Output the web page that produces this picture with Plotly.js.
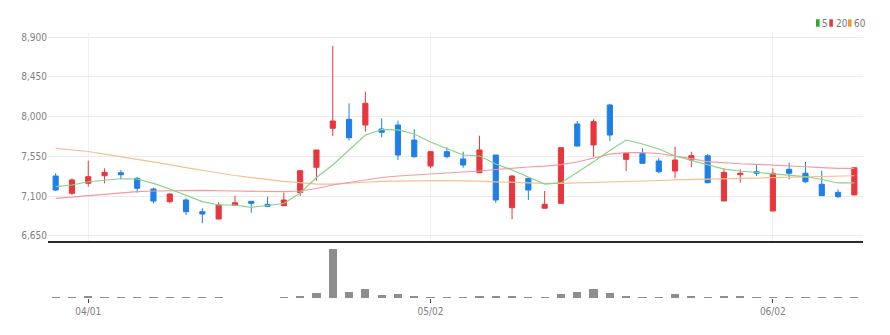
<!DOCTYPE html>
<html><head><meta charset="utf-8">
<script src="https://cdn.plot.ly/plotly-3.0.1.min.js"></script>
<style>html,body{margin:0;padding:0;background:#fff}</style>
</head><body>
<div id="chart" style="width:890px;height:335px"></div>
<script>
const dates = ['03/28','03/29','04/01','04/02','04/03','04/04','04/05','04/08','04/09','04/11','04/12','04/15','04/16','04/17','04/18','04/19','04/22','04/23','04/24','04/25','04/26','04/29','04/30','05/02','05/03','05/07','05/08','05/09','05/10','05/13','05/14','05/15','05/16','05/17','05/20','05/21','05/22','05/23','05/24','05/27','05/28','05/29','05/30','05/31','06/02','06/03','06/04','06/05','06/07','06/10'];
const openP  = [7327,7131,7244,7330,7364,7301,7180,7036,7055,6922,6839,6995,7040,7006,6990,7138,7426,7868,7970,7905,7860,7905,7735,7440,7603,7520,7364,7565,6968,7301,6961,7017,7917,7679,8132,7516,7584,7497,7384,7508,7557,7044,7342,7376,6930,7403,7358,7233,7142,7112];
const highP  = [7358,7301,7500,7414,7395,7316,7194,7131,7074,6961,7029,7100,7040,7092,7138,7387,7622,8801,8151,8283,7981,7954,7857,7603,7652,7603,7784,7565,7338,7301,7157,7648,7951,7970,8143,7584,7641,7528,7659,7603,7576,7414,7403,7463,7414,7478,7489,7387,7176,7421];
const lowP   = [7157,7112,7206,7244,7290,7138,7017,7017,6885,6791,6839,6995,6911,6979,6990,7100,7274,7781,7727,7829,7766,7508,7535,7414,7528,7421,7364,7024,6836,7055,6961,7017,7659,7546,7724,7384,7471,7358,7301,7426,7244,7044,7251,7327,6930,7290,7251,7104,7078,7112];
const closeP = [7168,7282,7319,7369,7342,7188,7043,7123,6922,6896,6998,7024,7017,6983,7055,7387,7622,7951,7761,8151,7823,7565,7546,7603,7546,7452,7622,7055,7327,7168,7006,7648,7667,7943,7792,7584,7471,7376,7508,7557,7251,7369,7358,7358,7358,7358,7262,7104,7092,7421];
const ma5  = [7206,7225,7262,7282,7296,7293,7244,7180,7112,7036,6998,6998,6972,6990,7015,7134,7310,7452,7622,7792,7854,7849,7803,7713,7639,7565,7554,7463,7395,7316,7236,7248,7367,7488,7616,7735,7690,7633,7554,7503,7452,7406,7384,7367,7355,7338,7321,7287,7248,7248];
const ma20 = [7074,7089,7112,7123,7140,7151,7157,7160,7163,7163,7160,7157,7151,7149,7149,7157,7185,7225,7253,7282,7310,7327,7338,7346,7355,7372,7384,7401,7418,7429,7440,7457,7486,7531,7576,7593,7593,7582,7554,7525,7489,7474,7466,7460,7448,7440,7432,7423,7414,7414];
const ma60 = [7641,7624,7605,7576,7548,7520,7491,7457,7423,7389,7361,7333,7310,7287,7265,7251,7236,7236,7242,7256,7265,7270,7273,7274,7274,7274,7270,7261,7253,7248,7244,7244,7248,7253,7259,7265,7270,7276,7282,7287,7293,7296,7301,7304,7310,7313,7318,7322,7327,7330];
const volume = [10000,10000,20000,10000,10000,10000,10000,10000,10000,10000,10000,2000,2000,2000,10000,23000,53000,493000,60000,90000,33000,37000,17000,10000,10000,10000,23000,23000,17000,10000,10000,40000,63000,93000,53000,23000,15000,15000,37000,17000,10000,17000,17000,10000,8000,10000,10000,10000,10000,15000];
const priceTicks = [6650,7100,7550,8000,8450,8900];
const dateTicks = ['04/01','05/02','06/02'];
const maNames = ['5','20','60'];

const FONT = "'Liberation Sans Narrow', 'DejaVu Sans Condensed', Arial, sans-serif";
const UP = '#e8363d', DOWN = '#1f7fe6';
const maColors = ['#86d486','#f39aa0','#f7c08e'];
const legColors = ['#22b122','#ee3340','#f39a2e'];

const traces = [];
[ma60, ma20, ma5].forEach((arr, k) => {
  const idx = 2 - k;
  traces.push({type:'scatter', mode:'lines', x:dates, y:arr, name:maNames[idx],
    line:{color:maColors[idx], width:1.2}, hoverinfo:'skip', showlegend:false, xaxis:'x', yaxis:'y'});
});
traces.push({type:'candlestick', x:dates, open:openP, high:highP, low:lowP, close:closeP,
  increasing:{line:{color:UP, width:1}, fillcolor:UP},
  decreasing:{line:{color:DOWN, width:1}, fillcolor:DOWN},
  whiskerwidth:0, showlegend:false, xaxis:'x', yaxis:'y'});
traces.push({type:'bar', x:dates, y:volume, width:0.5, marker:{color:'#8e8e8e'},
  showlegend:false, xaxis:'x2', yaxis:'y2'});

const H = 265, B = 298;
const pyTop = 33, pyBot = 241, vyTop = 243;
const L = 48, R = 863, W = R - L;
const px = v => (v - L) / W;
const py = v => (B - v) / H;

const shapes = [], annotations = [];
const sqX = [816, 829.3, 848], txX = [820.5, 834.5, 852.5];
for (let i = 0; i < 3; i++) {
  shapes.push({type:'rect', xref:'paper', yref:'paper', x0:px(sqX[i]), x1:px(sqX[i]+3.6), y0:py(26.7), y1:py(19.3),
    fillcolor:legColors[i], line:{width:0}});
  annotations.push({xref:'paper', yref:'paper', x:px(txX[i]), y:py(23), xanchor:'left', yanchor:'middle',
    text:maNames[i], showarrow:false, font:{family:FONT, size:10, color:'#777'}, borderpad:0});
}

const layout = {
  width:890, height:335,
  margin:{l:L, r:890-R, t:pyTop, b:335-B, pad:0},
  paper_bgcolor:'#fff', plot_bgcolor:'#fff',
  showlegend:false, boxgap:0.55, bargap:0,
  font:{family:FONT, size:10, color:'#808080'},
  xaxis:{type:'category', anchor:'y', domain:[0,1], range:[-0.47, 49.53],
    tickvals:dateTicks, showticklabels:false, ticks:'', showgrid:true, gridcolor:'#f0f0f0', gridwidth:1,
    showline:true, linecolor:'#2a2a2a', linewidth:2, zeroline:false, rangeslider:{visible:false}, fixedrange:true},
  yaxis:{anchor:'x', domain:[py(pyBot), 1], range:[6590, 8948.6], tickvals:priceTicks, tickformat:',d',
    showgrid:true, gridcolor:'#ebebeb', gridwidth:1, zeroline:false, ticks:'', showline:false,
    tickfont:{family:FONT, size:10, color:'#808080'}},
  xaxis2:{type:'category', anchor:'y2', domain:[0,1], range:[-0.47, 49.53], matches:'x',
    tickvals:dateTicks, ticktext:dateTicks, ticks:'outside', ticklen:4, tickwidth:1, tickcolor:'#444',
    showgrid:false, showline:false, zeroline:false, rangeslider:{visible:false},
    tickfont:{family:FONT, size:10, color:'#808080'}},
  yaxis2:{anchor:'x2', domain:[0, py(vyTop)], range:[0, 550000], showticklabels:false, showgrid:false,
    zeroline:false, ticks:'', showline:false},
  shapes:shapes, annotations:annotations
};
Plotly.newPlot('chart', traces, layout, {displayModeBar:false, staticPlot:true});
</script>
</body></html>
